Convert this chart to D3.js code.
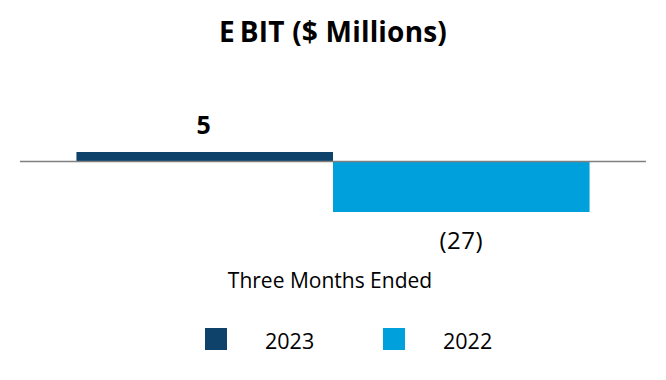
<!DOCTYPE html>
<html><head><meta charset="utf-8">
<script src="https://cdn.jsdelivr.net/npm/d3@7"></script>
<style>body{margin:0;background:#fff;} text{font-family:"Open Sans",sans-serif;}</style>
</head><body><svg id="c" width="666" height="380"></svg>
<script>
const categories = ["Three Months Ended"];
const seriesNames = ["2023", "2022"];
const values2023 = [5];
const values2022 = [-27];
const valueLabels2023 = ["5"];
const valueLabels2022 = ["(27)"];
const colors = ["#0e426a", "#00a0dc"];

const svg = d3.select("#c");
const W = 666;

const x0 = d3.scaleBand().domain(categories).range([20, 646]).paddingInner(0).paddingOuter(0.11);
const x1 = d3.scaleBand().domain(seriesNames).range([0, x0.bandwidth()]).padding(0);
const y = d3.scaleLinear().domain([-27, 5]).range([212, 152]);

// title
const t = svg.append("text").attr("x", W/2).attr("y", 41.5).attr("text-anchor","middle")
  .style("font-size","28px").style("font-weight","bold").style("letter-spacing","0.2px").attr("fill","#000");
t.append("tspan").text("E");
t.append("tspan").attr("dx", 5).text("BIT ($ Millions)");

const rows = categories.map((c,i)=>({cat:c, vals:[
  {s:"2023", v:values2023[i], lab:valueLabels2023[i]},
  {s:"2022", v:values2022[i], lab:valueLabels2022[i]}]}));

const g = svg.append("g");
rows.forEach(r=>{
  r.vals.forEach((d,j)=>{
    const xx = x0(r.cat) + x1(d.s);
    g.append("rect").attr("x", xx).attr("width", x1.bandwidth())
      .attr("y", y(Math.max(0,d.v))).attr("height", Math.abs(y(d.v)-y(0)))
      .attr("fill", colors[j]);
    g.append("text").attr("x", xx + x1.bandwidth()/2 + (d.v>=0 ? -1 : 0))
      .attr("y", d.v >= 0 ? y(d.v) - 18 : y(d.v) + 37)
      .attr("text-anchor","middle")
      .style("font-size", d.v>=0 ? "25px" : "24px").style("font-weight", d.v>=0 ? "bold" : "normal")
      .style("letter-spacing", d.v>=0 ? "0px" : "0.5px")
      .attr("fill","#000").text(d.lab);
  });
});

// zero line
svg.append("line").attr("x1",20).attr("x2",646).attr("y1",y(0)).attr("y2",y(0))
  .attr("stroke","#7f7f7f").attr("stroke-width",1.5);

// category axis label
svg.append("text").attr("x", x0(categories[0]) + x0.bandwidth()/2 - 3).attr("y", 288)
  .attr("text-anchor","middle").style("font-size","21px").attr("fill","#000").text(categories[0]);

// legend
const legX = [205, 383];
seriesNames.forEach((s,i)=>{
  svg.append("rect").attr("x", legX[i]).attr("y", 328).attr("width",22).attr("height",22).attr("fill",colors[i]);
  svg.append("text").attr("x", legX[i]+60).attr("y", 348.5).style("font-size","21.5px").attr("fill","#000").text(s);
});
</script></body></html>
